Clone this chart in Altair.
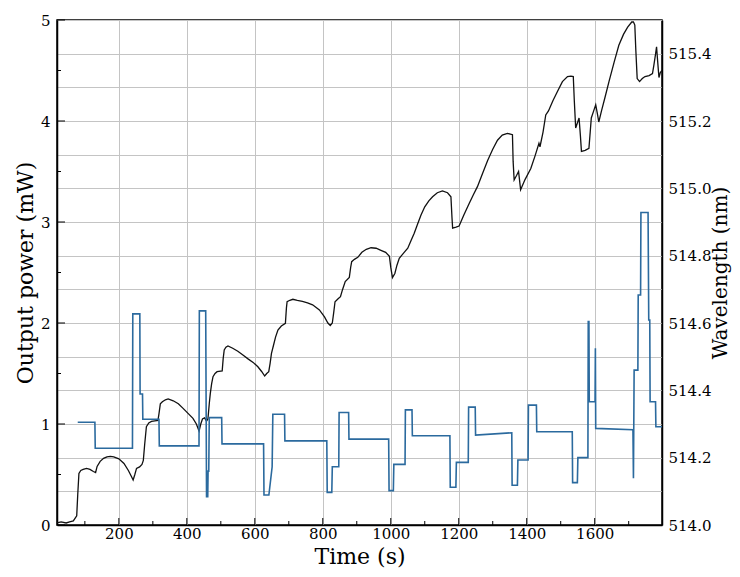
import altair as alt
import pandas as pd

# Output power (black curve)
p_time = [18, 30, 45, 55, 66, 72, 76, 79, 82.5, 88, 95, 105, 115, 125, 131.6, 136, 145, 155, 165, 175,
          185, 200, 215, 228, 237, 242, 247, 252, 261, 268, 272, 276, 281, 288, 296, 306, 315, 318, 322, 328,
          337, 345, 360, 375, 389, 405, 418, 428, 436, 441, 446, 452, 458, 462, 466, 469, 473, 477, 483, 489,
          504, 507, 510, 515, 521, 535, 550, 565, 580, 595, 609, 620, 629, 635, 641, 645, 649, 655, 661, 668,
          678, 690, 693, 695, 703, 712, 725, 740, 755, 770, 790, 805, 815, 822, 828, 832, 836, 845, 852, 858,
          866, 878, 882, 885, 893, 903, 915, 928, 942, 957, 971, 985, 996, 1000, 1005, 1012, 1018, 1025, 1037, 1050,
          1060, 1069, 1079, 1089, 1100, 1112, 1123, 1137, 1152, 1167, 1177, 1180, 1182, 1192, 1201, 1215, 1231, 1243, 1255, 1270,
          1285, 1300, 1314, 1328, 1343, 1358, 1360, 1363, 1370, 1376, 1382, 1395, 1412, 1425, 1436, 1439, 1448, 1456, 1464, 1477,
          1490, 1505, 1520, 1530, 1537, 1540, 1544, 1549, 1554, 1558, 1561, 1572, 1583, 1587, 1590, 1597, 1603, 1608, 1612, 1620,
          1630, 1642, 1657, 1671, 1685, 1697, 1709, 1714, 1718, 1721, 1725, 1732, 1740, 1748, 1760, 1770, 1774, 1778, 1782, 1785,
          1789, 1793, 1798]
p_power = [0.02, 0.03, 0.02, 0.03, 0.04, 0.07, 0.09, 0.3, 0.51, 0.54, 0.55, 0.56, 0.55, 0.53, 0.52, 0.58, 0.63, 0.66, 0.675, 0.68,
           0.675, 0.655, 0.61, 0.54, 0.48, 0.446, 0.5, 0.56, 0.575, 0.6, 0.64, 0.8, 0.973, 1.01, 1.025, 1.03, 1.035, 1.1, 1.2, 1.22,
           1.24, 1.248, 1.23, 1.2, 1.155, 1.1, 1.056, 1.0, 0.93, 1.0, 1.05, 1.06, 1.03, 1.05, 1.2, 1.3, 1.4, 1.468, 1.5, 1.518,
           1.525, 1.65, 1.733, 1.76, 1.772, 1.75, 1.72, 1.683, 1.645, 1.61, 1.567, 1.52, 1.475, 1.5, 1.518, 1.6, 1.7, 1.78, 1.86, 1.93,
           1.97, 1.997, 2.15, 2.211, 2.225, 2.235, 2.225, 2.215, 2.2, 2.18, 2.129, 2.06, 2.0, 1.975, 2.0, 2.1, 2.21, 2.24, 2.26, 2.33,
           2.41, 2.45, 2.55, 2.607, 2.63, 2.65, 2.7, 2.73, 2.745, 2.74, 2.72, 2.7, 2.66, 2.55, 2.45, 2.49, 2.57, 2.64, 2.69, 2.74,
           2.82, 2.888, 2.98, 3.07, 3.15, 3.21, 3.25, 3.29, 3.307, 3.29, 3.25, 3.05, 2.94, 2.95, 2.96, 3.07, 3.185, 3.27, 3.35, 3.48,
           3.61, 3.72, 3.81, 3.86, 3.878, 3.865, 3.6, 3.416, 3.46, 3.5, 3.32, 3.42, 3.53, 3.66, 3.78, 3.745, 3.89, 4.06, 4.1, 4.2,
           4.29, 4.39, 4.44, 4.445, 4.44, 4.2, 3.93, 3.98, 4.03, 3.85, 3.7, 3.71, 3.73, 3.9, 4.03, 4.1, 4.16, 4.07, 3.99, 4.1,
           4.23, 4.39, 4.58, 4.75, 4.86, 4.93, 4.98, 4.98, 4.95, 4.7, 4.42, 4.39, 4.42, 4.44, 4.45, 4.47, 4.55, 4.64, 4.735, 4.6,
           4.43, 4.48, 4.5]

# Wavelength (blue step curve)
w_time = [79, 129.5, 130.5, 240, 241, 261.7, 262.5, 269.6, 270.5, 318, 319, 435.8, 436.8, 454.6, 455.5, 458, 461.5, 462.5,
          464.5, 466, 502.5, 503.5, 625.8, 627, 641.4, 651, 653, 687.5, 688.5, 811.8, 813, 826.5, 828, 847, 848, 876, 877,
          993.8, 995, 1007.6, 1009, 1042, 1043, 1062.5, 1063.5, 1174, 1175, 1191.6, 1193, 1228, 1229, 1248.5, 1249.5, 1356,
          1357, 1372.6, 1374, 1404, 1405, 1428.5, 1429.5, 1534, 1535, 1549, 1550.5, 1580, 1581, 1583, 1584, 1601, 1602, 1603,
          1712.5, 1714, 1716, 1727, 1728, 1735, 1736, 1757, 1759, 1762, 1763, 1779, 1780, 1798]
w_nm = [514.305, 514.305, 514.228, 514.228, 514.627, 514.627, 514.389, 514.389, 514.314, 514.314, 514.235, 514.235, 514.636,
        514.636, 514.636, 514.084, 514.084, 514.16, 514.16, 514.319, 514.319, 514.241, 514.241, 514.089, 514.089, 514.173,
        514.329, 514.329, 514.25, 514.25, 514.097, 514.097, 514.173, 514.173, 514.334, 514.334, 514.255, 514.255, 514.102,
        514.102, 514.18, 514.18, 514.342, 514.342, 514.265, 514.265, 514.112, 514.112, 514.186, 514.186, 514.35, 514.35,
        514.267, 514.274, 514.118, 514.118, 514.193, 514.193, 514.356, 514.356, 514.277, 514.277, 514.126, 514.126, 514.2,
        514.2, 514.604, 514.604, 514.366, 514.366, 514.525, 514.287, 514.283, 514.139, 514.46, 514.46, 514.683, 514.683,
        514.928, 514.928, 514.609, 514.609, 514.366, 514.366, 514.292, 514.292]

x_labels = [200, 400, 600, 800, 1000, 1200, 1400, 1600]
x_minor = [100, 300, 500, 700, 900, 1100, 1300, 1500, 1700]
p_labels = [0, 1, 2, 3, 4, 5]
p_minor = [0.5, 1.5, 2.5, 3.5, 4.5]
w_grid = [514.0, 514.1, 514.2, 514.3, 514.4, 514.5, 514.6, 514.7, 514.8, 514.9, 515.0, 515.1, 515.2, 515.3, 515.4, 515.5]

W, H = 605, 505
FONT = "DejaVu Serif"
xdom = [18, 1798]

power_df = pd.DataFrame({"t": p_time, "p": p_power})
wl_df = pd.DataFrame({"t": w_time, "w": w_nm})

xscale = alt.Scale(domain=xdom, nice=False, zero=False)
xaxis = alt.Axis(values=x_labels, title="Time (s)", grid=True, ticks=False,
                 labelPadding=1, titlePadding=5, format="d",
                 labelFont=FONT, titleFont=FONT, titleFontSize=22)
X = alt.X("t:Q", scale=xscale, axis=xaxis)

power = alt.Chart(power_df).mark_line(color="#111111", strokeWidth=1.3).encode(
    x=X,
    y=alt.Y("p:Q", scale=alt.Scale(domain=[0, 5], nice=False),
            axis=alt.Axis(values=p_labels, title="Output power (mW)", grid=False, ticks=False,
                          labelPadding=7, titlePadding=3, format="d",
                          labelFont=FONT, titleFont=FONT, titleFontSize=22)),
)

wl = alt.Chart(wl_df).mark_line(color="#2b6a9e", strokeWidth=1.6).encode(
    x=X,
    y=alt.Y("w:Q", scale=alt.Scale(domain=[514.0, 515.5], nice=False, zero=False),
            axis=alt.Axis(orient="right", values=w_grid, title="Wavelength (nm)", grid=True, ticks=False,
                          labelPadding=6, titlePadding=0, titleAngle=270, titleBaseline="top",
                          labelFont=FONT, titleFont=FONT, titleFontSize=20,
                          labelExpr="(round(datum.value*10) % 2 == 0) ? format(datum.value, '.1f') : ''")),
)

def xticks(vals, length):
    return alt.Chart(pd.DataFrame({"t": vals})).mark_rule(color="black", strokeWidth=1).encode(
        x=X, y=alt.value(H), y2=alt.value(H - length))

def yticks(vals, length):
    return alt.Chart(pd.DataFrame({"v": vals})).mark_rule(color="black", strokeWidth=1).encode(
        y=alt.Y("v:Q", scale=alt.Scale(domain=[0, 5], nice=False), axis=None),
        x=alt.value(0), x2=alt.value(length))

chart = alt.layer(
    power, wl, xticks(x_labels, 7), xticks(x_minor, 4), yticks(p_labels, 8), yticks(p_minor, 4)
).resolve_scale(y="independent").properties(
    width=W, height=H,
    autosize=alt.AutoSizeParams(type="none"),
    padding={"left": 49, "top": 12, "right": 70, "bottom": 44},
).configure(font=FONT).configure_axis(
    labelFontSize=15, titleFontWeight="normal",
    labelColor="black", titleColor="black", domainColor="black", domainWidth=1.5,
    gridColor="#c4c4c4", gridWidth=1,
).configure_view(stroke="black", strokeWidth=1.5)

chart.save("out.html", embed_options={"renderer": "svg", "actions": False})
